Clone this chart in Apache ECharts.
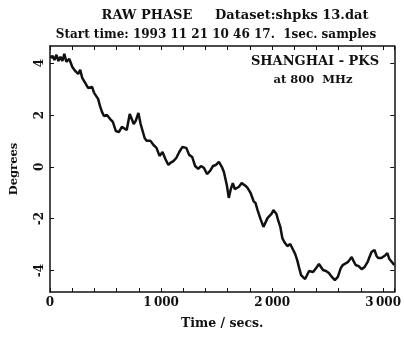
<!DOCTYPE html>
<html>
<head>
<meta charset="utf-8">
<script src="https://cdn.jsdelivr.net/npm/echarts@6/dist/echarts.min.js"></script>
<style>
html,body{margin:0;padding:0;background:#fff;}
#chart{width:404px;height:339px;}
</style>
</head>
<body>
<div id="chart"></div>
<script>
// Time (secs) and raw phase (degrees)
const timeSecs = [5,22,40,58,76,94,112,129,147,174,201,227,254,272,290,317,343,361,379,397,415,433,450,468,486,513,540,566,593,620,647,665,691,718,736,754,772,796,816,834,852,870,888,905,932,959,986,1013,1039,1066,1084,1111,1137,1164,1191,1209,1227,1253,1280,1307,1334,1360,1387,1414,1441,1468,1494,1521,1548,1566,1592,1610,1628,1646,1664,1682,1699,1726,1744,1762,1780,1806,1833,1851,1869,1896,1922,1940,1958,1976,1994,2012,2039,2056,2074,2092,2110,2137,2163,2190,2208,2226,2244,2261,2279,2297,2315,2333,2351,2369,2395,2422,2440,2458,2485,2511,2538,2565,2592,2618,2636,2654,2681,2699,2717,2734,2752,2779,2806,2832,2859,2877,2895,2922,2940,2957,2984,3002,3020,3038,3056,3073,3100];
const phaseDeg = [4.20,4.28,4.12,4.32,4.08,4.24,4.08,4.36,4.05,4.16,3.85,3.70,3.58,3.74,3.43,3.24,3.04,2.97,3.08,2.85,2.89,2.62,2.35,2.12,1.96,2.00,1.85,1.73,1.38,1.34,1.54,1.54,1.42,2.04,2.00,1.65,1.77,2.08,1.65,1.38,1.11,1.00,1.07,1.00,0.84,0.73,0.42,0.57,0.30,0.07,0.15,0.22,0.34,0.57,0.76,0.76,0.73,0.46,0.38,0.03,-0.08,0.03,-0.05,-0.28,-0.16,0.03,0.07,0.19,-0.01,-0.20,-0.70,-1.20,-0.86,-0.63,-0.86,-0.90,-0.78,-0.63,-0.59,-0.74,-0.82,-1.01,-1.32,-1.40,-1.67,-2.02,-2.32,-2.36,-1.98,-2.02,-1.82,-1.67,-1.82,-2.09,-2.32,-2.75,-2.90,-3.06,-2.98,-3.21,-3.37,-3.60,-3.91,-4.18,-4.25,-4.33,-4.29,-4.02,-3.95,-4.06,-3.91,-3.75,-3.79,-3.98,-4.02,-4.10,-4.25,-4.37,-4.25,-3.91,-3.79,-3.75,-3.68,-3.68,-3.48,-3.64,-3.79,-3.83,-3.95,-3.87,-3.68,-3.48,-3.29,-3.21,-3.44,-3.52,-3.52,-3.48,-3.41,-3.33,-3.56,-3.52,-3.79];
const yTicks = [-4,-2,0,2,4];
const xLabelTicks = [0,1000,2000,3000];
const titleLine1 = 'RAW PHASE     Dataset:shpks 13.dat';
const titleLine2 = 'Start time: 1993 11 21 10 46 17.  1sec. samples';
const noteLine1 = 'SHANGHAI - PKS';
const noteLine2 = 'at 800  MHz';

const FONT = 'DejaVu Serif';
const INK = '#111';
const seriesData = timeSecs.map((t, i) => [t, phaseDeg[i]]);

const chart = echarts.init(document.getElementById('chart'), null, {renderer: 'canvas'});
const axisLine = {show: true, onZero: false, lineStyle: {color: INK, width: 1.5}};
const tickIn = {show: true, inside: true, length: 4, lineStyle: {color: INK, width: 1}};

chart.setOption({
  backgroundColor: '#fff',
  animation: false,
  title: [
    {text: titleLine1, left: 230, top: 4, textAlign: 'center',
     textStyle: {fontFamily: FONT, fontWeight: 'bold', fontSize: 13, color: INK}},
    {text: titleLine2, left: 211, top: 24, textAlign: 'center',
     textStyle: {fontFamily: FONT, fontWeight: 'bold', fontSize: 12, color: INK}}
  ],
  grid: {left: 48, right: 9, top: 46, bottom: 47, containLabel: false},
  xAxis: [
    {type: 'value', min: 0, max: 3100, interval: 200, position: 'bottom',
     name: 'Time / secs.', nameLocation: 'middle', nameGap: 25,
     nameTextStyle: {fontFamily: FONT, fontWeight: 'bold', fontSize: 12.5, color: INK},
     axisLine: axisLine, axisTick: tickIn, splitLine: {show: false},
     axisLabel: {customValues: xLabelTicks, margin: 5, fontFamily: FONT, fontWeight: 'bold', fontSize: 12, color: INK,
       formatter: v => v === 0 ? '0' : String(v / 1000) + '\u2009000'}},
    {type: 'value', min: 0, max: 3100, interval: 200, position: 'top',
     axisLine: axisLine, axisTick: tickIn, axisLabel: {show: false}, splitLine: {show: false}}
  ],
  yAxis: [
    {type: 'value', min: -4.83, max: 4.66, position: 'left',
     name: 'Degrees', nameLocation: 'middle', nameGap: 30, nameRotate: 90,
     nameTextStyle: {fontFamily: FONT, fontWeight: 'bold', fontSize: 11.5, color: INK},
     axisLine: axisLine, splitLine: {show: false},
     axisTick: Object.assign({customValues: yTicks}, tickIn),
     axisLabel: {customValues: yTicks, rotate: 90, margin: 4, fontFamily: FONT, fontWeight: 'bold', fontSize: 12, color: INK,
       formatter: v => String(v)}},
    {type: 'value', min: -4.83, max: 4.66, position: 'right',
     axisLine: axisLine, splitLine: {show: false},
     axisTick: Object.assign({customValues: yTicks}, tickIn),
     axisLabel: {show: false}}
  ],
  graphic: [
    {type: 'text', x: 315, y: 55, style: {text: noteLine1, textAlign: 'center',
      font: 'bold 13px "DejaVu Serif"', fill: INK}},
    {type: 'text', x: 313, y: 74, style: {text: noteLine2, textAlign: 'center',
      font: 'bold 11.5px "DejaVu Serif"', fill: INK}}
  ],
  series: [{
    type: 'line', xAxisIndex: 0, yAxisIndex: 0, data: seriesData,
    showSymbol: false, smooth: false,
    lineStyle: {color: INK, width: 2.5}
  }]
});
</script>
</body>
</html>
